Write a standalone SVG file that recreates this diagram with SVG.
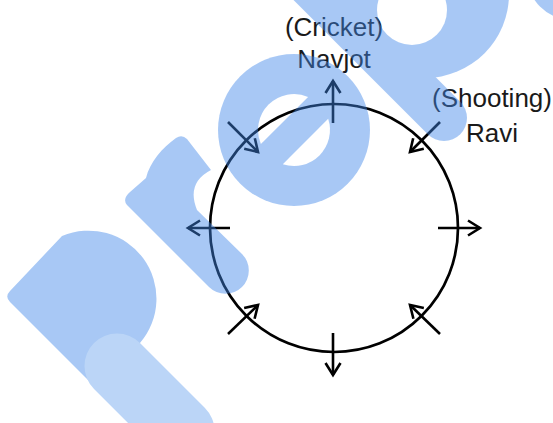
<svg xmlns="http://www.w3.org/2000/svg" width="553" height="423" viewBox="0 0 553 423">
<defs>
<style>
.ln{stroke:#000;stroke-width:2.6;fill:none;marker-end:url(#ah)}
.lbl{font-family:"Liberation Sans",Arial,sans-serif;font-size:26px;fill:#1a1a1a;text-anchor:middle}
.wm{fill:#4087e9}
.wms{stroke:#4087e9;fill:none;stroke-linecap:round}
</style>
<marker id="ah" markerUnits="userSpaceOnUse" markerWidth="24" markerHeight="24" refX="0" refY="0" orient="auto" overflow="visible">
<path d="M-12,-7.5 L0,0 L-12,7.5" fill="none" stroke="#000" stroke-width="2.6" stroke-linejoin="miter"/>
</marker>
<mask id="holes" maskUnits="userSpaceOnUse" x="0" y="0" width="553" height="423">
<rect x="0" y="0" width="553" height="423" fill="#fff"/>
<path d="M260.9,144.1 L308.1,96.9 A36,36 0 0 0 260.9,144.1 Z" fill="#000"/>
<path d="M328.2,118.8 A36,36 0 0 1 282.8,164.2 Z" fill="#000"/>
<circle cx="412" cy="10" r="35" fill="#000"/>
</mask>
</defs>
<rect width="553" height="423" fill="#fff"/>
<g id="table">
<circle cx="334" cy="228" r="124" fill="none" stroke="#000" stroke-width="2.7"/>
</g>
<g id="connectors">
<line class="ln" x1="333" y1="123" x2="333" y2="81"/>
<line class="ln" x1="333" y1="333" x2="333" y2="375"/>
<line class="ln" x1="230" y1="228" x2="188" y2="228"/>
<line class="ln" x1="438" y1="228" x2="480" y2="228"/>
<line class="ln" x1="228" y1="122" x2="258" y2="152"/>
<line class="ln" x1="440" y1="122" x2="410" y2="152"/>
<line class="ln" x1="228" y1="334" x2="258" y2="305"/>
<line class="ln" x1="440" y1="334" x2="410" y2="305"/>
</g>
<g id="navjot">
<text class="lbl" x="334" y="36">(Cricket)</text>
<text class="lbl" x="334" y="68">Navjot</text>
</g>
<g id="ravi">
<text class="lbl" x="492" y="107">(Shooting)</text>
<text class="lbl" x="492" y="142">Ravi</text>
</g>
<g id="watermark" opacity="0.45" mask="url(#holes)">
<path class="wm" d="M10,302 Q4.5,296.5 10,291 L62,236 A68,68 0 0 1 140,343 L118,410 Z"/>
<line x1="117" y1="366" x2="182" y2="431" stroke="#6aa4ef" stroke-width="65" stroke-linecap="round"/>
<path class="wm" d="M127,205 L209,287 A23,23 0 0 0 242,254 L197,210 Q186,183 211,170 L187,139 Q182,134 176,138 C162,148 150,162 146,178 L130,192 Q122,199 127,205 Z"/>
<circle class="wm" cx="294" cy="130" r="76"/>
<line class="wms" x1="254" y1="-72" x2="444" y2="118" stroke-width="46"/>
<circle class="wm" cx="425" cy="-6" r="84"/>
<circle class="wm" cx="572" cy="-25" r="45"/>
</g>
</svg>
